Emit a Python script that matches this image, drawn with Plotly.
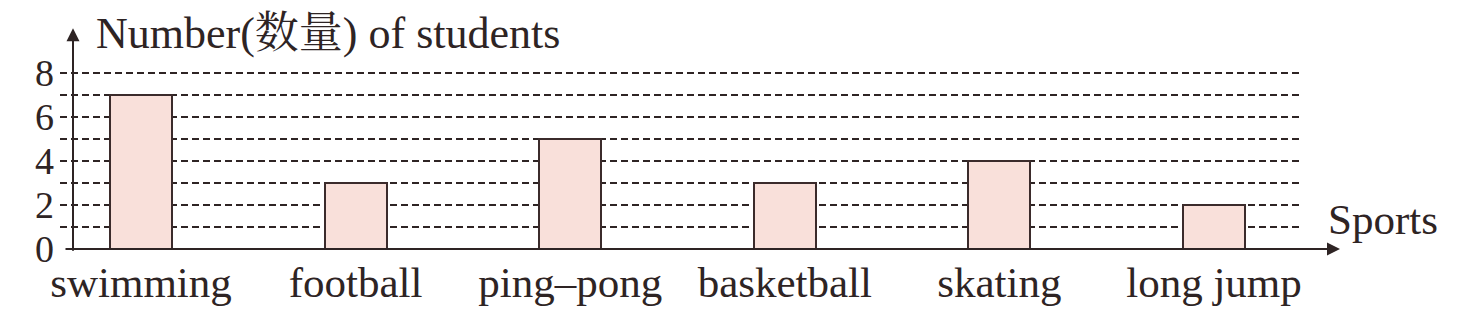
import plotly.graph_objects as go

categories = ["swimming", "football", "ping–pong", "basketball", "skating", "long jump"]
students = [7, 3, 5, 3, 4, 2]
y_tick_vals = [0, 2, 4, 6, 8]
y_title = "Number(数量) of students"
x_title = "Sports"

W, H = 1477, 318
L, R, T, B = 60, 177, 50, 66
plot_w = W - L - R
plot_h = H - T - B

font_fam = "Liberation Serif, Noto Serif CJK SC, Noto Sans CJK SC, serif"
ink = "#2e2424"
dash = "7px,4px"

fig = go.Figure()
fig.add_trace(go.Bar(
    x=list(range(len(categories))), y=students,
    width=0.289,
    marker=dict(color="#f9e0da", line=dict(color="#3b2b2b", width=2)),
    hoverinfo="skip",
))

fig.update_layout(
    width=W, height=H,
    margin=dict(l=L, r=R, t=T, b=B, pad=0),
    paper_bgcolor="white", plot_bgcolor="white",
    showlegend=False,
    font=dict(family=font_fam, color=ink, size=38),
    bargap=0,
)
fig.update_xaxes(
    range=[-0.3775, 5.4007],
    tickvals=list(range(len(categories))), ticktext=categories,
    showgrid=False, zeroline=False, showline=False, ticks="",
    tickfont=dict(size=43, family=font_fam, color=ink),
    ticklabelstandoff=4,
)
fig.update_yaxes(
    range=[0, 9.03],
    tickvals=y_tick_vals,
    showgrid=True, gridcolor=ink, gridwidth=1.6, griddash=dash,
    minor=dict(dtick=1, showgrid=True, gridcolor=ink, gridwidth=1.6, griddash=dash),
    zeroline=False, showline=False, ticks="",
    tickfont=dict(size=38, family=font_fam, color=ink),
    ticklabelstandoff=5,
)

# y axis with arrow
yaxis_x = (73 - L) / plot_w
fig.add_annotation(
    xref="paper", yref="paper", x=yaxis_x, y=(H - B - 28) / plot_h,
    ax=0, ay=224, axref="pixel", ayref="pixel",
    showarrow=True, arrowhead=2, arrowsize=1.3, arrowwidth=2, arrowcolor=ink, text="",
)
# x axis with arrow
fig.add_annotation(
    xref="paper", yref="paper", x=(1340 - L) / plot_w, y=0,
    ax=-(1340 - 64), ay=0,
    showarrow=True, arrowhead=2, arrowsize=1.3, arrowwidth=2, arrowcolor=ink, text="",
)
# axis titles
fig.add_annotation(
    xref="paper", yref="paper", x=(94 - L) / plot_w, y=(H - B - 33) / plot_h,
    xanchor="left", yanchor="middle", showarrow=False,
    text=y_title, font=dict(size=44, family=font_fam, color=ink),
)
fig.add_annotation(
    xref="paper", yref="paper", x=(1326 - L) / plot_w, y=(H - B - 222) / plot_h,
    xanchor="left", yanchor="middle", showarrow=False,
    text=x_title, font=dict(size=43, family=font_fam, color=ink),
)

fig.write_html("out.html")
